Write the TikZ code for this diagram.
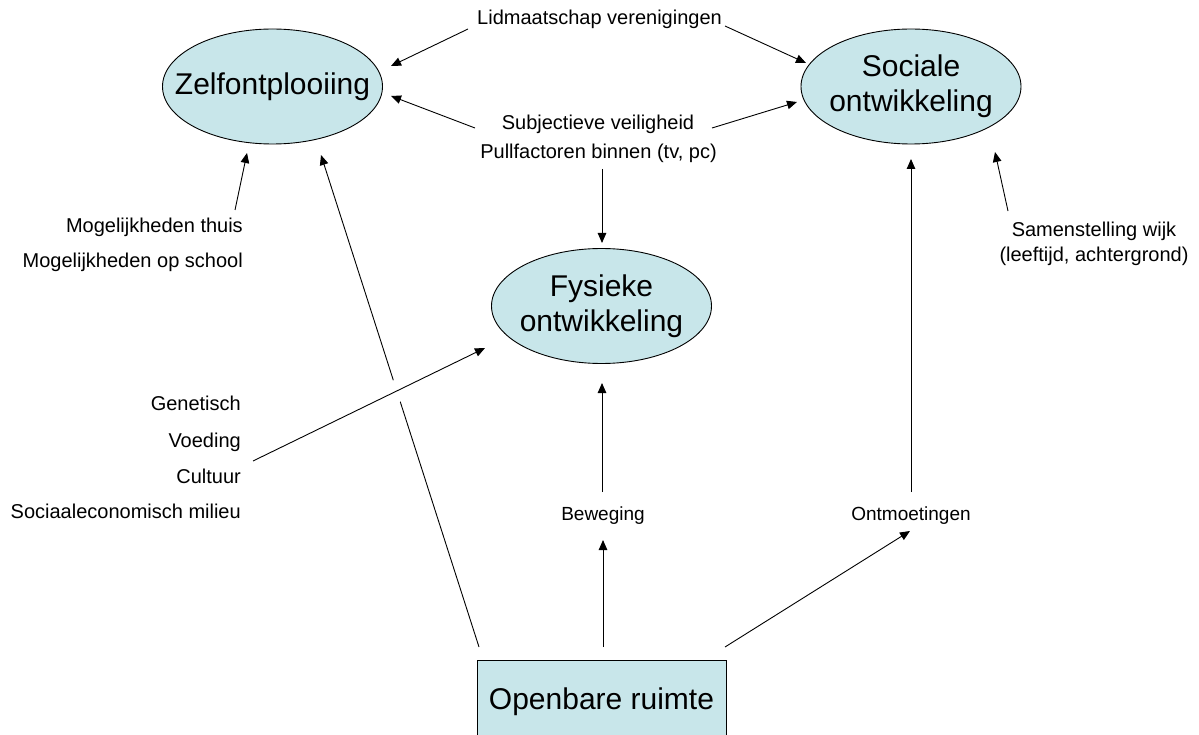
\documentclass[tikz,border=0pt]{standalone}
\usepackage{fontspec}
\setmainfont{Liberation Sans}
\usetikzlibrary{arrows.meta,shapes.geometric,calc}
\definecolor{boxfill}{RGB}{200,230,234}
\begin{document}
\begin{tikzpicture}[x=1pt,y=-1pt,
  conn/.style={draw=black, line width=0.9pt, -{Triangle[length=10pt,width=8.5pt]}},
  plainline/.style={draw=black, line width=0.9pt},
  oval/.style={ellipse, draw=black, line width=0.9pt, fill=boxfill, minimum width=220pt, minimum height=115pt, inner sep=0pt},
  bigtxt/.style={font=\fontsize{30}{35}\selectfont, align=center, inner sep=0pt},
  lbl/.style={font=\fontsize{20}{24}\selectfont, inner sep=0pt, anchor=base},
  lblr/.style={font=\fontsize{20}{24}\selectfont, inner sep=0pt, anchor=base east},
  lbls/.style={font=\fontsize{19}{23}\selectfont, inner sep=0pt, anchor=base},
  sqbox/.style={rectangle, draw=black, line width=0.9pt, fill=boxfill, minimum width=249pt, minimum height=84pt, inner sep=0pt, font=\fontsize{30}{35}\selectfont}
]
\useasboundingbox (0,0) rectangle (1199,735);

% main nodes
\node[oval] (zelf) at (272.5,86.5) {};
\node[bigtxt] (zelft) at (zelf) {Zelfontplooiing};
\node[oval] (soc) at (911,86.5) {};
\node[bigtxt] (soct) at (soc) {Sociale\\ontwikkeling};
\node[oval] (fys) at (601.5,306) {};
\node[bigtxt] (fyst) at (fys) {Fysieke\\ontwikkeling};
\node[sqbox] (open) at (601.5,702) {Openbare ruimte};

% labels
\node[lbl] (lid) at (599.5,25) {Lidmaatschap verenigingen};
\node[lbl] (subj) at (598,130) {Subjectieve veiligheid};
\node[lbl] (pull) at (598.5,159) {Pullfactoren binnen (tv, pc)};
\node[lblr] (mog1) at (243,233) {Mogelijkheden thuis};
\node[lblr] (mog2) at (243,268) {Mogelijkheden op school};
\node[lblr] (gen) at (241,410) {Genetisch};
\node[lblr] (voe) at (241,447) {Voeding};
\node[lblr] (cul) at (241,483) {Cultuur};
\node[lblr] (sec) at (241,518) {Sociaaleconomisch milieu};
\node[lbl] (sam) at (1094,237) {Samenstelling wijk};
\node[lbl] (lee) at (1094,262) {(leeftijd, achtergrond)};
\node[lbls] (bew) at (603,520) {Beweging};
\node[lbls] (ont) at (911,520) {Ontmoetingen};

% connector ends
\coordinate (lidL) at (468,29);   \coordinate (zelfA) at (391,66);
\coordinate (lidR) at (725,26);   \coordinate (socA) at (806,63);
\coordinate (subjL) at (475,128); \coordinate (zelfB) at (391,96);
\coordinate (subjR) at (712,128); \coordinate (socB) at (797,102);
\coordinate (pullS) at (602,169); \coordinate (fysT) at (602,243);
\coordinate (mogN) at (235,210);  \coordinate (zelfC) at (247,153);
\coordinate (samN) at (1008,211); \coordinate (socC) at (995,152);
\coordinate (culE) at (253,461);  \coordinate (fysL) at (485,348);
\coordinate (openL) at (479,647); \coordinate (zelfD) at (321,155);
\coordinate (bewN) at (602,492);  \coordinate (fysB) at (602,383);
\coordinate (openM) at (603,647); \coordinate (bewS) at (603,540);
\coordinate (ontN) at (911,492);  \coordinate (socD) at (911,159);
\coordinate (openR) at (725,647); \coordinate (ontS) at (910,531);

% connectors
\draw[conn] (lidL) -- (zelfA);
\draw[conn] (lidR) -- (socA);
\draw[conn] (subjL) -- (zelfB);
\draw[conn] (subjR) -- (socB);
\draw[conn] (pullS) -- (fysT);
\draw[conn] (mogN) -- (zelfC);
\draw[conn] (samN) -- (socC);
\draw[conn] (openL) -- (zelfD);
\draw[draw=white, line width=22pt] ($(culE)!0.56!(fysL)$) -- ($(culE)!0.68!(fysL)$);
\draw[conn] (culE) -- (fysL);
\draw[conn] (bewN) -- (fysB);
\draw[conn] (openM) -- (bewS);
\draw[conn] (ontN) -- (socD);
\draw[conn] (openR) -- (ontS);
\end{tikzpicture}
\end{document}
